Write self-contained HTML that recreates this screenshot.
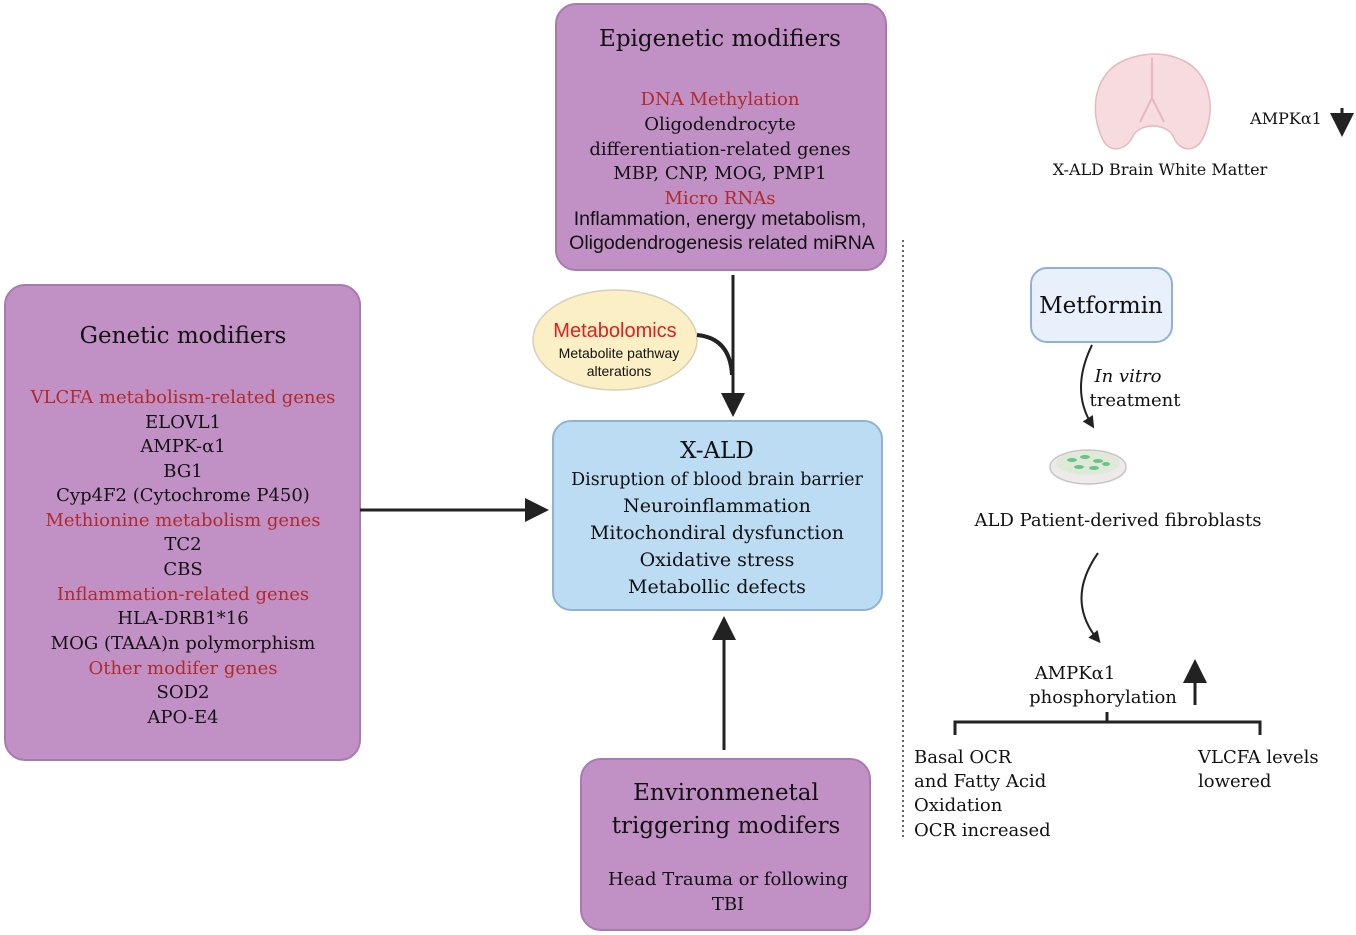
<!DOCTYPE html>
<html><head><meta charset="utf-8"><style>
body{margin:0;background:#fff;}
svg{display:block;font-family:"DejaVu Serif",serif;}
.s{font-family:"Liberation Sans",sans-serif;}
</style></head><body>
<svg width="1356" height="935" viewBox="0 0 1356 935" xmlns="http://www.w3.org/2000/svg">
<defs>
<marker id="ah" markerWidth="8" markerHeight="8" refX="5" refY="4" orient="auto" markerUnits="strokeWidth"><path d="M0,0 L8,4 L0,8 Z" fill="#222"/></marker>
<marker id="ah2" markerWidth="6" markerHeight="6" refX="4" refY="3" orient="auto" markerUnits="strokeWidth"><path d="M0,0 L6,3 L0,6 Z" fill="#222"/></marker>
</defs>
<rect x="556" y="4" width="330" height="266" rx="20" fill="#c191c6" stroke="#a87bb0" stroke-width="2"/>
<rect x="5" y="285" width="355" height="475" rx="20" fill="#c191c6" stroke="#a87bb0" stroke-width="2"/>
<rect x="553" y="421" width="329" height="189" rx="18" fill="#bcdcf3" stroke="#8fb3d0" stroke-width="2"/>
<rect x="581" y="759" width="289" height="171" rx="20" fill="#c191c6" stroke="#a87bb0" stroke-width="2"/>
<rect x="1031" y="268" width="141" height="74" rx="16" fill="#e8f1fb" stroke="#8eb0da" stroke-width="2"/>
<ellipse cx="615" cy="340" rx="82" ry="50" fill="#fbefc6" stroke="#d8d0b8" stroke-width="1.5"/>
<line x1="903" y1="240" x2="903" y2="840" stroke="#333" stroke-width="1.5" stroke-dasharray="2,3"/>
<line x1="360" y1="510" x2="540" y2="510" stroke="#222" stroke-width="3" marker-end="url(#ah)"/>
<line x1="733" y1="275" x2="733" y2="408" stroke="#222" stroke-width="3" marker-end="url(#ah)"/>
<path d="M697,335 Q730,338 732,375" fill="none" stroke="#222" stroke-width="4"/>
<line x1="724" y1="750" x2="724" y2="625" stroke="#222" stroke-width="3" marker-end="url(#ah)"/>
<path d="M1092,345 Q1070,390 1092,425" fill="none" stroke="#222" stroke-width="2" marker-end="url(#ah2)"/>
<path d="M1098,553 Q1065,600 1098,640" fill="none" stroke="#222" stroke-width="2" marker-end="url(#ah2)"/>
<line x1="1195" y1="705" x2="1195" y2="668" stroke="#222" stroke-width="3" marker-end="url(#ah)"/>
<line x1="1342" y1="108" x2="1342" y2="128" stroke="#222" stroke-width="3" marker-end="url(#ah)"/>
<path d="M955,735 L955,722 L1260,722 L1260,735 M1107,722 L1107,712" fill="none" stroke="#222" stroke-width="3"/>
<g fill="#f6dcdf" stroke="#e8b7bf" stroke-width="1.5">
<path d="M1103,140 C1088,110 1095,72 1125,60 C1145,52 1165,52 1182,60 C1210,72 1218,110 1202,140 C1195,152 1180,152 1174,138 C1168,122 1138,122 1132,138 C1124,152 1109,152 1103,140 Z"/>
</g>
<path d="M1152,98 L1140,122 M1152,98 L1164,122 M1152,58 L1152,98" stroke="#e8b7bf" stroke-width="2" fill="none"/>
<ellipse cx="1088" cy="467" rx="38" ry="17" fill="#efeaea" stroke="#c9c4c4" stroke-width="1.5"/>
<ellipse cx="1088" cy="463" rx="32" ry="12" fill="#dfe9d8"/>
<g fill="#69c38a"><ellipse cx="1072" cy="460" rx="5" ry="2"/><ellipse cx="1085" cy="457" rx="5" ry="2"/><ellipse cx="1098" cy="461" rx="5" ry="2"/><ellipse cx="1079" cy="467" rx="5" ry="2"/><ellipse cx="1094" cy="468" rx="5" ry="2"/><ellipse cx="1106" cy="464" rx="4" ry="2"/></g>
<g text-anchor="middle" font-size="18" fill="#111">
<text x="720" y="46" font-size="23">Epigenetic modifiers</text>
<text x="720" y="105" fill="#b02a2a">DNA Methylation</text>
<text x="720" y="130">Oligodendrocyte</text>
<text x="720" y="155">differentiation-related genes</text>
<text x="720" y="179">MBP, CNP, MOG, PMP1</text>
<text x="720" y="204" fill="#b02a2a">Micro RNAs</text>
<text x="720" y="225" class="s" font-size="19.5">Inflammation, energy metabolism,</text>
<text x="722" y="249" class="s" font-size="19.5">Oligodendrogenesis related miRNA</text>

<text x="183" y="343" font-size="23">Genetic modifiers</text>
<text x="183" y="403" fill="#b02a2a">VLCFA metabolism-related genes</text>
<text x="183" y="428">ELOVL1</text>
<text x="183" y="452">AMPK-α1</text>
<text x="183" y="477">BG1</text>
<text x="183" y="501">Cyp4F2 (Cytochrome P450)</text>
<text x="183" y="526" fill="#b02a2a">Methionine metabolism genes</text>
<text x="183" y="550">TC2</text>
<text x="183" y="575">CBS</text>
<text x="183" y="600" fill="#b02a2a">Inflammation-related genes</text>
<text x="183" y="624">HLA-DRB1*16</text>
<text x="183" y="649">MOG (TAAA)n polymorphism</text>
<text x="183" y="674" fill="#b02a2a">Other modifer genes</text>
<text x="183" y="698">SOD2</text>
<text x="183" y="723">APO-E4</text>

<text x="717" y="458" font-size="23">X-ALD</text>
<text x="717" y="485" font-size="17.5">Disruption of blood brain barrier</text>
<text x="717" y="512" font-size="19">Neuroinflammation</text>
<text x="717" y="539" font-size="19">Mitochondiral dysfunction</text>
<text x="717" y="566" font-size="19">Oxidative stress</text>
<text x="717" y="593" font-size="19">Metabollic defects</text>

<text x="726" y="800" font-size="23">Environmenetal</text>
<text x="726" y="833" font-size="23">triggering modifers</text>
<text x="728" y="885">Head Trauma or following</text>
<text x="728" y="910">TBI</text>

<text x="615" y="337" class="s" font-size="20" fill="#e02020">Metabolomics</text>
<text x="619" y="358" class="s" font-size="14">Metabolite pathway</text>
<text x="619" y="376" class="s" font-size="14">alterations</text>

<text x="1101" y="313" font-size="23">Metformin</text>
<text x="1160" y="175" font-size="16">X-ALD Brain White Matter</text>
<text x="1286" y="124" font-size="16">AMPKα1</text>
<text x="1128" y="382" font-style="italic">In vitro</text>
<text x="1135" y="406">treatment</text>
<text x="1118" y="526">ALD Patient-derived fibroblasts</text>
<text x="1075" y="679">AMPKα1</text>
<text x="1103" y="703">phosphorylation</text>
</g>
<g font-size="18" fill="#111">
<text x="914" y="763">Basal OCR</text>
<text x="914" y="787">and Fatty Acid</text>
<text x="914" y="811">Oxidation</text>
<text x="914" y="836">OCR increased</text>
<text x="1198" y="763">VLCFA levels</text>
<text x="1198" y="787">lowered</text>
</g>
</svg>
</body></html>
